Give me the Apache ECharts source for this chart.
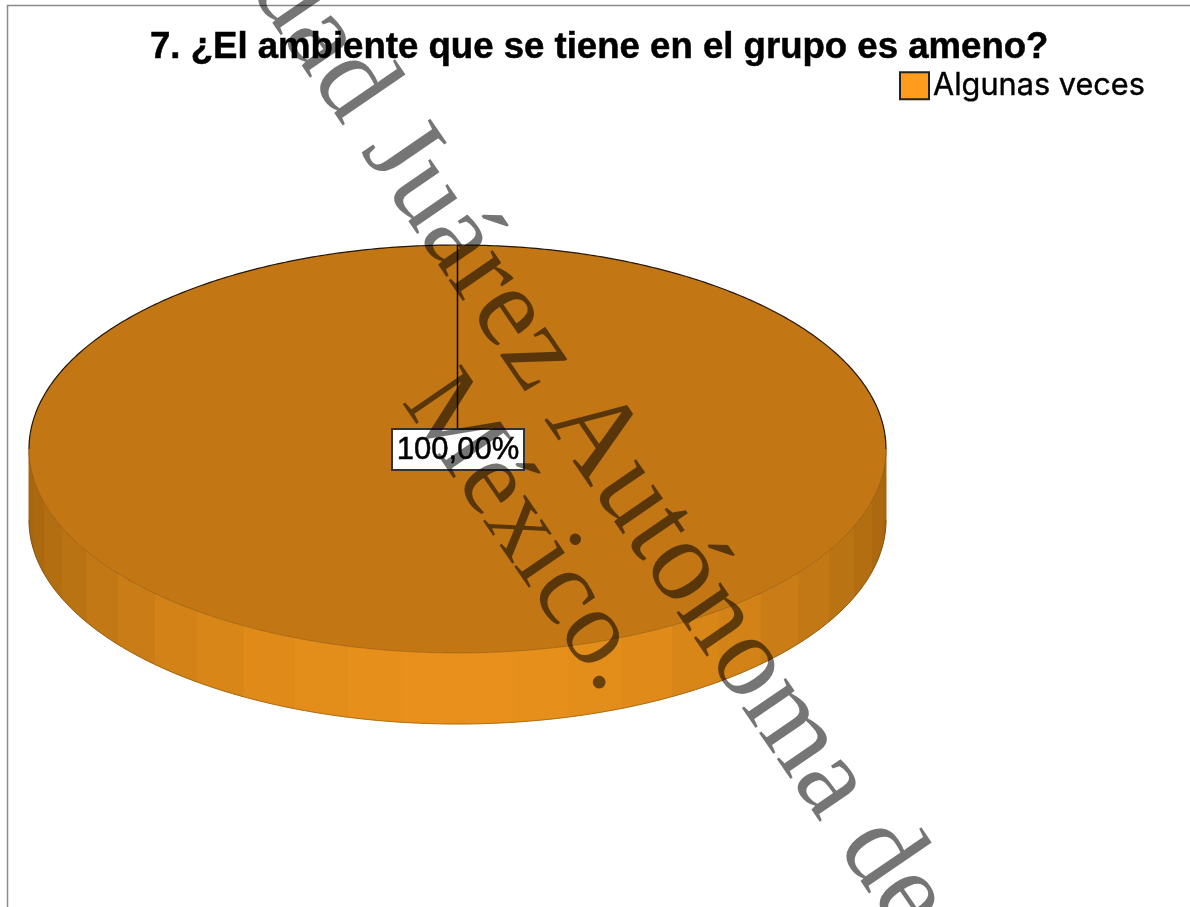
<!DOCTYPE html>
<html>
<head>
<meta charset="utf-8">
<style>
  html, body { margin: 0; padding: 0; background: #fff; }
  #chart { width: 1190px; height: 907px; filter: blur(0.5px); }
</style>
<script src="https://cdn.jsdelivr.net/npm/echarts@6/dist/echarts.min.js"></script>
</head>
<body>
<div id="chart"></div>
<script>
// data
const categories = ['Algunas veces']
const values = [100]
const titleText = '7. ¿El ambiente que se tiene en el grupo es ameno?'
const watermarkLines = ['Universidad Juárez Autónoma de Tabasco.', 'México.']

// look of the tilted pie
const PIE = { cx: 457.5, cy: 449, rx: 428.5, ry: 204, depth: 71 }
const FACET = Math.PI / 24 // rim is shaded in 7.5 degree steps
const COLOR_BASE = '#FF9C1D'
const COLOR_TOP = '#C27714'
const RIM_DARK = [165, 101, 15]
const RIM_LIGHT = [232, 144, 27]
const SANS = '"Liberation Sans", Arial, sans-serif'
const WATERMARK_ANGLE = -0.97

const total = values.reduce((a, b) => a + b, 0)

function pt(a, dy) {
  return [PIE.cx + PIE.rx * Math.cos(a), PIE.cy + PIE.ry * Math.sin(a) + (dy || 0)]
}

function rimColor(a) {
  const t = Math.pow(Math.max(0, Math.sin(a)), 1.4)
  const c = RIM_DARK.map((d, i) => Math.round(d + (RIM_LIGHT[i] - d) * t))
  return `rgb(${c[0]},${c[1]},${c[2]})`
}

function arcPoints(a0, a1, dy) {
  const pts = []
  const n = Math.max(2, Math.ceil(Math.abs(a1 - a0) / 0.01))
  for (let i = 0; i <= n; i++) pts.push(pt(a0 + (a1 - a0) * i / n, dy))
  return pts
}

function renderSlice(params, api) {
  const value = api.value(0)
  const sweep = (value / total) * Math.PI * 2
  const start = Math.PI / 2
  const end = start + sweep
  const mid = start + sweep / 2
  const children = []

  // rim facets, only the front half of the disc shows
  for (let a = 0; a < Math.PI - 1e-6; a += FACET) {
    const b = a + FACET
    const color = rimColor(a + FACET / 2)
    children.push({
      type: 'polygon',
      shape: { points: [...arcPoints(a, b, 0), ...arcPoints(b, a, PIE.depth)] },
      style: { fill: color, stroke: color, lineWidth: 1 },
    })
  }
  children.push({
    type: 'polyline',
    shape: { points: arcPoints(0, Math.PI, PIE.depth) },
    style: { fill: null, stroke: 'rgba(50,30,0,0.3)', lineWidth: 1 },
  })

  // top face
  children.push({
    type: 'polygon',
    shape: { points: arcPoints(start, end, 0) },
    style: { fill: COLOR_TOP },
  })
  children.push({
    type: 'polyline',
    shape: { points: arcPoints(Math.PI, Math.PI * 2, 0) },
    style: { fill: null, stroke: '#241505', lineWidth: 1.2 },
  })
  children.push({
    type: 'polyline',
    shape: { points: arcPoints(0, Math.PI, 0) },
    style: { fill: null, stroke: 'rgba(70,40,0,0.25)', lineWidth: 1 },
  })

  // leader and percentage box
  const anchor = pt(mid)
  children.push({
    type: 'line',
    shape: { x1: Math.round(anchor[0]) + 0.5, y1: anchor[1], x2: Math.round(anchor[0]) + 0.5, y2: 429 },
    style: { stroke: '#000', lineWidth: 1.5 },
  })
  children.push({
    type: 'rect',
    shape: { x: 392, y: 429, width: 132, height: 41 },
    style: { fill: '#fff', stroke: '#333', lineWidth: 2 },
  })
  children.push({
    type: 'text',
    style: {
      x: 458,
      y: 450,
      text: ((value / total) * 100).toFixed(2).replace('.', ',') + '%',
      fill: '#000',
      stroke: '#000',
      lineWidth: 0.5,
      font: `31px ${SANS}`,
      align: 'center',
      verticalAlign: 'middle',
    },
  })

  return { type: 'group', children }
}

const chart = echarts.init(document.getElementById('chart'), null, { renderer: 'canvas' })
chart.setOption({
  animation: false,
  backgroundColor: '#fff',
  title: {
    text: titleText,
    left: 150,
    top: 29,
    padding: 0,
    textStyle: {
      color: '#000',
      fontFamily: SANS,
      fontWeight: 'bold',
      fontSize: 36.6,
      textBorderColor: '#000',
      textBorderWidth: 0.5,
    },
  },
  legend: {
    data: categories,
    left: 899,
    top: 70,
    padding: 0,
    itemWidth: 29,
    itemHeight: 27,
    icon: 'rect',
    itemStyle: { borderColor: '#222', borderWidth: 2 },
    textStyle: {
      color: '#000',
      fontFamily: 'Inter',
      fontSize: 30.7,
      textBorderColor: '#000',
      textBorderWidth: 0.4,
      padding: [0, 0, 0, -1],
    },
  },
  series: [
    {
      type: 'custom',
      name: categories[0],
      coordinateSystem: 'none',
      itemStyle: { color: COLOR_BASE },
      data: values.map((v) => [v]),
      renderItem: renderSlice,
      silent: true,
    },
  ],
  graphic: [
    // frame of the original picture
    {
      type: 'polyline',
      z: 1,
      shape: { points: [[7.5, 907], [7.5, 5.5], [1190, 5.5]] },
      style: { fill: null, stroke: '#8a8a8a', lineWidth: 1.5 },
    },
    // diagonal watermark over everything
    {
      type: 'text',
      z: 100,
      x: 96,
      y: -391,
      rotation: WATERMARK_ANGLE,
      style: {
        text: watermarkLines[0],
        font: '116px "Liberation Serif", serif',
        fill: 'rgba(0,0,0,0.54)',
      },
    },
    {
      type: 'text',
      z: 100,
      x: 469,
      y: 355,
      rotation: WATERMARK_ANGLE,
      style: {
        text: watermarkLines[1],
        font: '108px "Liberation Serif", serif',
        fill: 'rgba(0,0,0,0.54)',
      },
    },
  ],
})
</script>
</body>
</html>
